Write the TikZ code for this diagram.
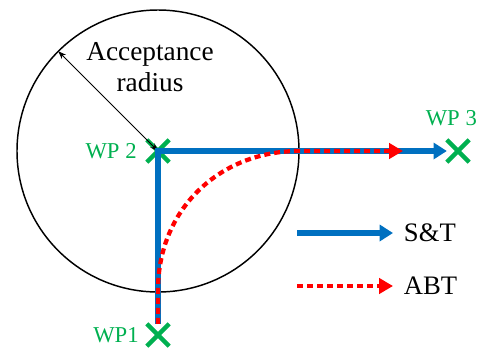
\documentclass[tikz,border=0pt]{standalone}
\usepackage{fontspec}
\setmainfont{Liberation Serif}
\usepackage{tikz}
\usetikzlibrary{positioning,arrows.meta,shapes.misc,calc}

\definecolor{wpgreen}{RGB}{0,176,80}
\definecolor{stblue}{RGB}{0,112,192}
\definecolor{abtred}{RGB}{255,0,0}

\begin{document}
\begin{tikzpicture}[x=0.75pt,y=-0.75pt,
  wp/.style={cross out,draw=wpgreen,line width=3.2pt,minimum size=13.5pt,inner sep=0pt},
  wplab/.style={text=wpgreen,inner sep=0pt,font=\fontsize{17}{20}\selectfont},
  txt/.style={font=\fontsize{20.5}{23.5}\selectfont,align=center},
  legtext/.style={font=\fontsize{20}{23.5}\selectfont,inner xsep=8pt,inner ysep=0pt,anchor=west},
  stpath/.style={stblue,line width=4pt,-{Triangle[length=10pt,width=12pt]}},
  abtpath/.style={abtred,line width=3.2pt,dash pattern=on 4.5pt off 3pt,-{Triangle[length=10.5pt,width=11.5pt]}},
  radarrow/.style={black,line width=0.75pt,{Stealth[length=6pt,width=4.5pt]}-{Stealth[length=6pt,width=4.5pt]}},
]
\useasboundingbox (0,0) rectangle (481,350);

% Waypoints
\node[wp] (wp1) at (158,335) {};
\node[wp] (wp2) at (158,151) {};
\node[wp] (wp3) at (458,151) {};
\node[wplab,left=6pt of wp1] (wp1lab) {WP1};
\node[wplab,left=7.5pt of wp2] (wp2lab) {WP 2};
\node[wplab,above=10.5pt of wp3,xshift=-5pt] (wp3lab) {WP 3};

% Acceptance circle
\draw[line width=1.1pt] (wp2.center) circle [radius=105.75pt];
\coordinate (rimpt) at ($(wp2.center)+(135:105.75pt)$);
\draw[radarrow] (wp2.center) -- (rimpt);
\node[txt] (acclab) at (150,67) {Acceptance\\radius};

% S&T path
\draw[stpath] (wp1) -- (wp2.center) -- (wp3);

% ABT path
\coordinate (abtin) at ($(wp2.center)+(0,139)$);
\coordinate (abtout) at ($(wp2.center)+(141,0)$);
\coordinate (abtend) at (403,151);
\draw[abtpath] (wp1) -- (abtin) .. controls ($(wp2.center)+(0,58)$) and ($(wp2.center)+(62,0)$) .. (abtout) -- (abtend);

% Legend
\coordinate (stfrom) at (297,233);
\node[legtext] (stlab) at (393,233) {S\&T};
\draw[stpath] (stfrom) -- (stlab);
\coordinate (abtfrom) at (297,286);
\node[legtext] (abtlab) at (393,286) {ABT};
\draw[abtpath] (abtfrom) -- (abtlab);

\end{tikzpicture}
\end{document}
